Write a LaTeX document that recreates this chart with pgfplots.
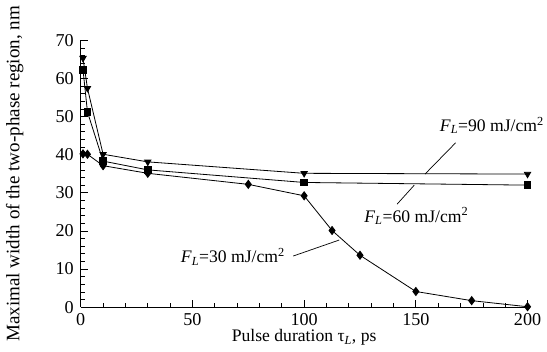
\documentclass[border=0pt]{standalone}
\usepackage{pgfplots}
\pgfplotsset{compat=1.18}
\usepackage{fontspec}
\setmainfont{Liberation Serif}
\begin{document}
\fontsize{17.5}{20}\selectfont
\begin{tikzpicture}
\begin{axis}[
  scale only axis,
  width=442bp, height=264bp,
  xmin=0, xmax=200, ymin=0, ymax=70,
  axis x line=bottom, axis y line=left,
  axis line style={-, line width=0.8bp},
  xtick={0,50,100,150,200},
  ytick={0,10,20,30,40,50,60,70},
  minor x tick num=4, minor y tick num=4,
  tick align=inside,
  major tick length=7bp, minor tick length=4bp,
  tick style={line width=0.7bp, black},
  /pgf/number format/assume math mode=true,
  ticklabel style={font=\fontsize{18}{20}\selectfont},
  xticklabel style={yshift=0bp},
  yticklabel style={xshift=-1bp},
  xlabel style={font=\fontsize{17.5}{20}\selectfont, yshift=8bp},
  ylabel style={font=\fontsize{18.9}{21}\selectfont, yshift=20bp},
  xlabel={Pulse duration τ\textsubscript{\textit{L}}, ps},
  ylabel={Maximal width of the two-phase region, nm},
  clip=false,
]
\addplot[black, line width=0.8bp, mark=triangle*, mark size=3.6bp, mark options={rotate=180, solid}]
  coordinates {(1,65.3) (3,57.4) (10,40.1) (30,38.1) (100,35.1) (200,34.9)};
\addplot[black, line width=0.8bp, mark=square*, mark size=3.3bp]
  coordinates {(1,62.3) (3,51.2) (10,38.3) (30,36.0) (100,32.7) (200,32.0)};
\addplot[black, line width=0.8bp, mark=diamond*, mark size=4bp]
  coordinates {(1,40.2) (3,40.1) (10,37.1) (30,35.1) (75,32.2) (100,29.2) (112.5,20.1) (125,13.6) (150,4.1) (175,1.7) (200,0.1)};
\node[anchor=base, inner sep=0pt] at (axis cs:184,46.1) {\textit{F}\textsubscript{\textit{L}}=90 mJ/cm\textsuperscript{2}};
\node[anchor=base, inner sep=0pt] at (axis cs:150.2,22.3) {\textit{F}\textsubscript{\textit{L}}=60 mJ/cm\textsuperscript{2}};
\node[anchor=base, inner sep=0pt] at (axis cs:68.1,11.7) {\textit{F}\textsubscript{\textit{L}}=30 mJ/cm\textsuperscript{2}};
\draw[line width=0.7bp] (axis cs:167.8,43.1) -- (axis cs:154.1,34.9);
\draw[line width=0.7bp] (axis cs:141.6,27.0) -- (axis cs:149.3,32.0);
\draw[line width=0.7bp] (axis cs:95.1,13.4) -- (axis cs:115.7,17.6);
\end{axis}
\end{tikzpicture}
\end{document}
